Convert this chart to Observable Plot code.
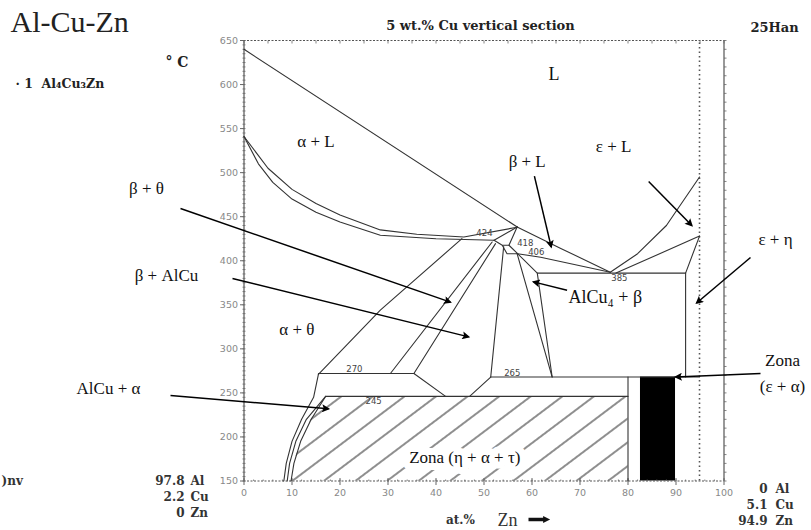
<!DOCTYPE html>
<html><head><meta charset="utf-8">
<script src="https://cdn.jsdelivr.net/npm/d3@7"></script>
<script src="https://cdn.jsdelivr.net/npm/@observablehq/plot@0.6"></script>
<style>body{margin:0;background:#fff;}</style>
</head><body><div id="chart"></div>
<script>
// ---------- data (at.% Zn, °C) ----------
const xTicks = [0,10,20,30,40,50,60,70,80,90,100];
const yTicks = [150,200,250,300,350,400,450,500,550,600,650];

const liqAlpha      = [[0,640],[57,438]];
const solAlphaUpper = [[0,541],[5,505],[10,481],[15,465],[20,452],[28.4,435],[36,430],[45.8,427],[56.9,438]];
const solAlphaLower = [[0,541],[3,510],[6,489],[10,470],[15,455],[20,444],[28.4,429],[40,425],[52.1,423.2]];
const apexLink      = [[52.1,423.2],[56.9,438.3]];
const liqBeta       = [[56.9,438.3],[66,414],[76.3,387]];
const quad418       = [[52.1,423.2],[53.8,417.6],[55.2,417.6],[57,408],[54.8,408],[53.8,417.6]];
const apexTo418     = [[56.9,438.3],[55.2,417.6]];
const sol406        = [[57,408],[61.8,404],[76.3,387]];
const lineA         = [[45.4,425.1],[28.4,343.9],[15.5,271]];
const lineB         = [[51.7,421.3],[30.5,272]];
const lineC         = [[52.4,419.4],[35.4,272]];
const lineE         = [[54.1,416],[51.4,268]];
const lineF         = [[56.9,408],[64.2,268]];
const lineG         = [[57,408],[61.1,386],[64.2,268]];
const iso385        = [[61.1,386],[92,386]];
const liqEps        = [[76.3,387],[82,408],[88,440],[94.9,495]];
const solEps        = [[77.5,386],[94.9,428]];
const epsEtaV       = [[92,386],[92,268]];
const epsEtaD       = [[92,386],[94.9,428]];
const iso265        = [[51.4,268],[94.9,268]];
const iso270        = [[15.5,272],[35.4,272]];
const diag270       = [[35.4,272],[42,246]];
const diag265       = [[51.4,268],[47,246]];
const iso245        = [[17,246],[80,246]];
const zoneRight     = [[80,150],[80,268]];
const solvus1       = [[8.3,150],[8.8,170],[10,195],[12,220],[14.5,245],[15.5,271]];
const solvus2       = [[9,150],[9.5,170],[10.8,195],[13,220],[17,246]];
const solvus3       = [[9.8,150],[10.4,170],[11.8,195],[14,220],[17,246]];

const hatchT  = [150,170,195,220,246];
const hatchXl = [9.8,10.4,11.8,14,17];
const hatchXr = 80;
const blackZone = {x1:82.6, x2:89.9, y1:150, y2:268};

const boundaries = [liqAlpha,solAlphaUpper,solAlphaLower,apexLink,liqBeta,quad418,apexTo418,sol406,
  lineA,lineB,lineC,lineE,lineF,lineG,iso385,liqEps,solEps,epsEtaV,epsEtaD,iso265,iso270,diag270,diag265,
  iso245,zoneRight,solvus1,solvus2,solvus3];

// ---------- layout ----------
const W=811,H=530,ML=243.5,MR=87.5,MT=40,MB=49.5;
const px2x = p => (p-ML)/(W-ML-MR)*100;
const py2y = p => 650-(p-MT)/(H-MT-MB)*500;
const ux = px => px/(W-ML-MR)*100;
const uy = px => px/(H-MT-MB)*500;

const segs = [];
boundaries.forEach((b,i)=>b.forEach(([x,y])=>segs.push({id:i,x,y})));
const hatch = hatchT.map((t,i)=>({T:t,xl:hatchXl[i],xr:hatchXr}));

const arrowsData = [
  {x1:px2x(180),y1:py2y(208),x2:43,y2:353},
  {x1:px2x(232),y1:py2y(278),x2:46.8,y2:313.6},
  {x1:px2x(170),y1:py2y(395),x2:17.6,y2:232},
  {x1:60.5,y1:496,x2:64,y2:415.7},
  {x1:84.3,y1:490,x2:93.3,y2:440},
  {x1:67.3,y1:366.6,x2:60.3,y2:376},
  {x1:px2x(750),y1:py2y(257),x2:94.3,y2:352},
  {x1:px2x(760),y1:py2y(373),x2:89.9,y2:268}
];

const serif = "Liberation Serif, Times New Roman, serif";
const wide = "DejaVu Serif, serif";
const labels = [
  {x:64.6,y:612,t:"L",s:18},
  {x:15,y:535,t:"α + L",s:17},
  {x:59,y:513,t:"β + L",s:17},
  {x:77,y:530,t:"ε + L",s:17},
  {x:11,y:322,t:"α + θ",s:17},
  {x:px2x(146),y:py2y(188),t:"β + θ",s:17},
  {x:px2x(166),y:py2y(275),t:"β + AlCu",s:17},
  {x:px2x(108),y:py2y(388),t:"AlCu + α",s:17},
  {x:px2x(775),y:py2y(239),t:"ε + η",s:17},
  {x:px2x(782),y:py2y(360),t:"Zona",s:17},
  {x:px2x(782),y:py2y(386),t:"(ε + α)",s:17}
];

const titleTxt  = [{x:10,y:22,t:"Al-Cu-Zn"}];
const boldStart = [{x:165,y:62,t:"° C"}];
const formula   = [{x:15,y:83,t:"· 1  Al₄Cu₃Zn"}];
const headTxt   = [{x:480,y:25,t:"5 wt.% Cu vertical section"},{x:774,y:27,t:"25Han"}];
const compNums  = [{x:184,y:481,t:"97.8"},{x:184,y:497,t:"2.2"},{x:184,y:513,t:"0"},
                   {x:767,y:489,t:"0"},{x:767,y:505,t:"5.1"},{x:767,y:521,t:"94.9"}];
const compEls   = [{x:190,y:481,t:"Al"},{x:190,y:497,t:"Cu"},{x:190,y:513,t:"Zn"},
                   {x:775,y:489,t:"Al"},{x:775,y:505,t:"Cu"},{x:775,y:521,t:"Zn"}];
const cutTxt    = [{x:1,y:481,t:")nv"}];

const smallNums = [
  {x:50.1,y:431.5,t:"424"},{x:58.6,y:419.8,t:"418"},{x:60.9,y:409.6,t:"406"},
  {x:78.2,y:380,t:"385"},{x:55.9,y:272,t:"265"},{x:23,y:277,t:"270"},{x:27,y:240,t:"245"}
];

const yMinor = d3.range(150,651,5);
const xMinorB = d3.range(0,101,2);
const xMinorT = d3.range(0,101,5);
const rMinor = d3.range(150,651,10);
function P0(anchor){ return {x:d=>px2x(d.x),y:d=>py2y(d.y),text:"t",textAnchor:anchor}; }

const ARROW = "#000001", ZNARROW = "#111112";
const chart = Plot.plot({
  width:W,height:H,marginLeft:ML,marginRight:MR,marginTop:MT,marginBottom:MB,
  x:{domain:[0,100],axis:null},
  y:{domain:[150,650],axis:null},
  style:{background:"#fff",overflow:"visible"},
  marks:[
    Plot.areaX(hatch,{y:"T",x1:"xl",x2:"xr",fill:"url(#hatch)",stroke:"none"}),
    Plot.rect([blackZone],{x1:"x1",x2:"x2",y1:"y1",y2:"y2",fill:"#000"}),
    Plot.ruleX([0],{y1:150,y2:650,stroke:"#555",strokeWidth:1.2}),
    Plot.ruleX([100],{y1:150,y2:650,stroke:"#555",strokeWidth:1.2}),
    Plot.ruleY([150],{x1:0,x2:100,stroke:"#555",strokeWidth:1.2,strokeDasharray:"2,1.5"}),
    Plot.ruleY([650],{x1:0,x2:100,stroke:"#555",strokeWidth:1.2,strokeDasharray:"2,1.5"}),
    Plot.ruleX([94.9],{y1:150,y2:650,stroke:"#555",strokeWidth:1.6,strokeDasharray:"1.5,3"}),
    Plot.link(yMinor,{x1:-ux(1.5),x2:ux(1.5),y1:d=>d,y2:d=>d,stroke:"#666",strokeWidth:0.8}),
    Plot.link(yTicks,{x1:-ux(4),x2:0,y1:d=>d,y2:d=>d,stroke:"#666"}),
    Plot.link(rMinor,{x1:100,x2:100+ux(2.5),y1:d=>d,y2:d=>d,stroke:"#666",strokeWidth:0.8}),
    Plot.link(xMinorB,{x1:d=>d,x2:d=>d,y1:150,y2:150+uy(1.5),stroke:"#666",strokeWidth:0.8}),
    Plot.link(xTicks,{x1:d=>d,x2:d=>d,y1:150-uy(4),y2:150+uy(3),stroke:"#666"}),
    Plot.link(xMinorT,{x1:d=>d,x2:d=>d,y1:650,y2:650-uy(3),stroke:"#666",strokeWidth:0.8}),
    Plot.text(yTicks,{x:-ux(6),y:d=>d,text:d=>String(d),textAnchor:"end",fontSize:9.5,fill:"#888",fontFamily:"DejaVu Sans"}),
    Plot.text(xTicks,{x:d=>d,y:py2y(492),text:d=>String(d),fontSize:9.5,fill:"#888",fontFamily:"DejaVu Sans"}),
    Plot.line(segs,{x:"x",y:"y",z:"id",stroke:"#333",strokeWidth:1.1}),
    Plot.link(arrowsData,{x1:"x1",y1:"y1",x2:"x2",y2:"y2",stroke:ARROW,strokeWidth:1.5}),
    Plot.text(smallNums,{x:"x",y:"y",text:"t",fontSize:8.5,fill:"#444",fontFamily:"DejaVu Sans"}),
    Plot.text(labels,{x:"x",y:"y",text:"t",fontSize:d=>d.s,fill:"#111",fontFamily:serif}),
    Plot.text(["AlCu₄ + β"],{x:67.6,y:359,text:d=>d,textAnchor:"start",fontSize:18,fill:"#111",fontFamily:serif}),
    Plot.text(["Zona (η + α + τ)"],{x:46,y:177,text:d=>d,fontSize:17,fill:"#111",fontFamily:serif,stroke:"#fff",strokeWidth:14,paintOrder:"stroke"}),
    Plot.text(titleTxt,{...P0("start"),fontSize:30,fill:"#222",fontFamily:serif}),
    Plot.text(boldStart,{...P0("start"),fontSize:14,fontWeight:"bold",fill:"#222",fontFamily:wide}),
    Plot.text(formula,{...P0("start"),fontSize:12.5,fontWeight:"bold",fill:"#222",fontFamily:wide}),
    Plot.text(headTxt,{...P0("middle"),fontSize:13,fontWeight:"bold",fill:"#222",fontFamily:wide}),
    Plot.text(compNums,{...P0("end"),fontSize:12,fontWeight:"bold",fill:"#333",fontFamily:wide}),
    Plot.text(compEls,{...P0("start"),fontSize:12,fontWeight:"bold",fill:"#333",fontFamily:wide}),
    Plot.text(cutTxt,{...P0("start"),fontSize:12,fontWeight:"bold",fill:"#333",fontFamily:wide}),
    Plot.text(["at.%"],{x:px2x(460),y:py2y(520),text:d=>d,fontSize:12,fontWeight:"bold",fill:"#333",fontFamily:wide}),
    Plot.text(["Zn"],{x:px2x(507),y:py2y(520),text:d=>d,fontSize:18,fill:"#333",fontFamily:serif}),
    Plot.link([{x1:px2x(528),x2:px2x(544),y:py2y(519)}],{x1:"x1",x2:"x2",y1:"y",y2:"y",stroke:ZNARROW,strokeWidth:3.5})
  ]
});
const svg = d3.select(chart);
const defs = svg.insert("defs",":first-child");
defs.append("pattern").attr("id","hatch").attr("patternUnits","userSpaceOnUse")
  .attr("width",30).attr("height",19).attr("patternTransform","rotate(-37)")
  .append("line").attr("x1",0).attr("x2",30).attr("y1",9).attr("y2",9).attr("stroke","#333").attr("stroke-width",1.1);
defs.append("marker").attr("id","ah").attr("viewBox","0 0 10 10").attr("refX",8).attr("refY",5)
  .attr("markerUnits","userSpaceOnUse").attr("markerWidth",11).attr("markerHeight",8).attr("orient","auto")
  .append("path").attr("d","M0,0L10,5L0,10L2,5Z").attr("fill","#000");
defs.append("marker").attr("id","ah2").attr("viewBox","0 0 10 10").attr("refX",2).attr("refY",5)
  .attr("markerUnits","userSpaceOnUse").attr("markerWidth",9).attr("markerHeight",7).attr("orient","auto")
  .append("path").attr("d","M0,0L10,5L0,10Z").attr("fill","#111");
svg.selectAll("path, line").each(function(){
  const el = d3.select(this);
  const s = (el.attr("stroke") || (this.parentNode && this.parentNode.getAttribute && this.parentNode.getAttribute("stroke")) || "").toLowerCase();
  if (s === ARROW) el.attr("marker-end","url(#ah)");
  else if (s === ZNARROW) el.attr("marker-end","url(#ah2)");
});
document.getElementById("chart").appendChild(chart);
</script></body></html>
